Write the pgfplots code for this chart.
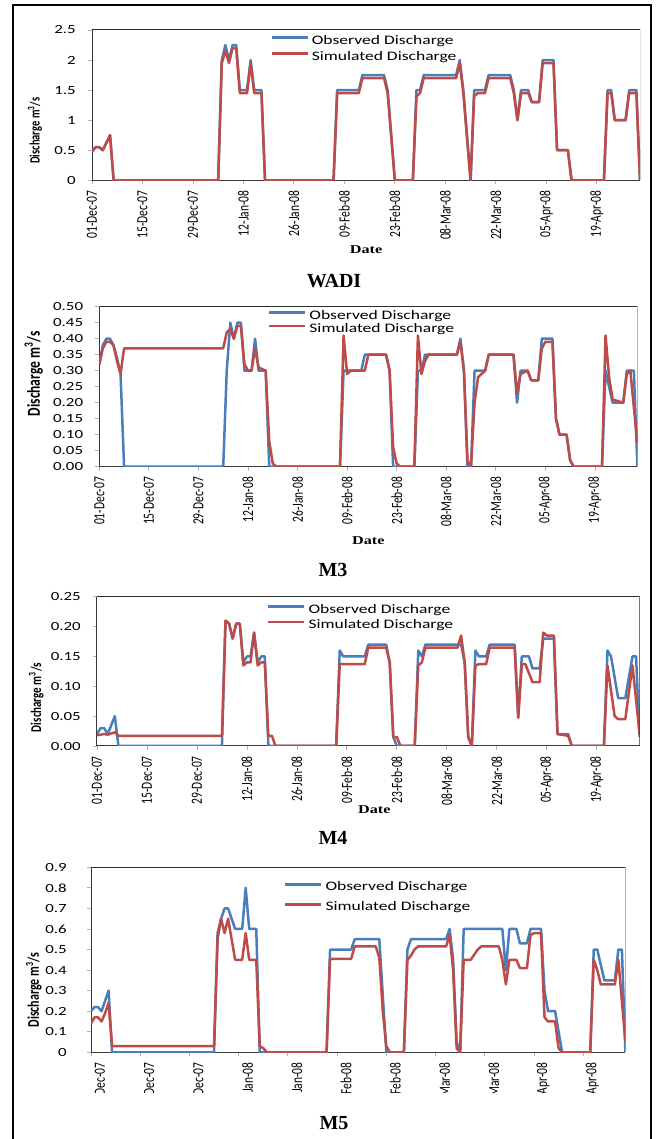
\documentclass[border=0pt]{standalone}
\usepackage{fontspec}
\setmainfont{Liberation Serif}
\newfontfamily\carlito{Carlito}
\usepackage{graphicx}
\usepackage{pgfplots}
\pgfplotsset{compat=1.18}
\definecolor{obsblue}{RGB}{74,126,187}
\definecolor{simred}{RGB}{190,75,72}
\newcommand\hs[1]{\scalebox{1.35}[1]{#1}}
\newcommand\vs[1]{\scalebox{1}[1.35]{#1}}
\tikzset{frameedge/.style={draw=gray!35!black, line width=1pt}}
\pgfplotsset{
  panel/.style={
    scale only axis,
    xmin=0, xmax=152, ymin=0,
    axis x line*=bottom, axis y line*=left,
    axis line style={draw=gray!45!black, line width=1pt},
    xtick={0,14,...,140},
    xticklabels={\vs{01-Dec-07},\vs{15-Dec-07},\vs{29-Dec-07},\vs{12-Jan-08},\vs{26-Jan-08},\vs{09-Feb-08},\vs{23-Feb-08},\vs{08-Mar-08},\vs{22-Mar-08},\vs{05-Apr-08},\vs{19-Apr-08}},
    xticklabel style={yshift=-4pt, rotate=90, anchor=east, inner sep=2pt, font=\carlito\fontsize{11.5}{11.5}\selectfont},
    yticklabel style={xshift=-10pt, font=\carlito\fontsize{12.5}{12.5}\selectfont, inner sep=2pt},
    /pgf/number format/assume math mode=true,
    tick align=outside, major tick length=4pt,
    tick style={draw=gray!60, line width=0.8pt},
    ylabel={\vs{Discharge m\textsuperscript{3}/s}},
    xlabel={\hs{Date}},
    xlabel style={anchor=center, font=\bfseries\fontsize{12}{12}\selectfont},
    legend cell align=left,
    legend image code/.code={\draw[#1] (0pt,3.6pt) -- (36pt,3.6pt);},
    legend style={draw=none, fill=none, inner sep=0pt, font=\carlito\fontsize{13}{13}\selectfont,
      nodes={inner sep=0pt, text height=9pt, text depth=3pt},
      /tikz/every odd column/.append style={column sep=3pt}},
    every axis plot/.append style={line width=2.5pt, line join=round},
  }
}
\begin{document}
\begin{tikzpicture}
\useasboundingbox (0pt,0pt) rectangle (659pt,1139pt);
% ---------------- WADI
\begin{axis}[panel, at={(92pt,958.7pt)}, anchor=south west, width=548pt, height=150.3pt,
  ymax=2.5, ytick={0,0.5,...,2.5},
  yticklabel={\hs{\pgfmathprintnumber{\tick}}},
  ylabel style={anchor=center, at={(axis description cs:-0.104,0.33)}, font=\carlito\bfseries\fontsize{10.5}{10.5}\selectfont},
  xlabel style={at={(axis description cs:0.5,-0.464)}},
  legend style={at={(axis description cs:0.325,0.967)}, anchor=north west, row sep=4pt}]
\addplot[obsblue] coordinates {(0,0.48)(1,0.55)(2,0.55)(3,0.5)(5,0.75)(6,0)(35,0)(36,2.0)(37,2.25)(38,2.0)(39,2.25)(40,2.25)(41,1.5)(43,1.5)(44,2.0)(45,1.5)(47,1.5)(48,0)(67,0)(68,1.5)(74,1.5)(75,1.75)(81,1.75)(82,1.5)(84,0)(89,0)(90,1.5)(91,1.5)(92,1.75)(101,1.75)(102,2.0)(103,1.5)(105,0)(106,1.5)(109,1.5)(110,1.75)(116,1.75)(117,1.5)(118,1.0)(119,1.5)(121,1.5)(122,1.3)(124,1.3)(125,2.0)(128,2.0)(129,0.5)(132,0.5)(133,0)(142,0)(143,1.5)(144,1.5)(145,1.0)(148,1.0)(149,1.5)(151,1.5)(152,0)};
\addlegendentry{\hs{Observed Discharge}}
\addplot[simred] coordinates {(0,0.48)(1,0.55)(2,0.55)(3,0.5)(5,0.75)(6,0)(35,0)(36,1.95)(37,2.15)(38,1.95)(39,2.2)(40,2.2)(41,1.45)(43,1.45)(44,1.95)(45,1.45)(47,1.45)(48,0)(67,0)(68,1.45)(74,1.45)(75,1.7)(81,1.7)(82,1.45)(84,0)(89,0)(90,1.4)(91,1.45)(92,1.7)(101,1.7)(102,1.95)(103,1.45)(105,0)(106,1.4)(107,1.45)(109,1.45)(110,1.7)(116,1.7)(117,1.45)(118,1.0)(119,1.45)(121,1.45)(122,1.3)(124,1.3)(125,1.95)(128,1.95)(129,0.5)(132,0.5)(133,0)(142,0)(143,1.45)(144,1.45)(145,1.0)(148,1.0)(149,1.45)(151,1.45)(152,0)};
\addlegendentry{\hs{Simulated Discharge}}
\draw[frameedge] (rel axis cs:0,1) -- (rel axis cs:1,1) -- (rel axis cs:1,0);
\end{axis}
% ---------------- M3
\begin{axis}[panel, at={(99.3pt,672.3pt)}, anchor=south west, width=538.1pt, height=160pt,
  ymax=0.5, ytick={0,0.05,...,0.51},
  yticklabel={\hs{\pgfmathprintnumber[fixed,fixed zerofill,precision=2]{\tick}}},
  ylabel style={anchor=center, at={(axis description cs:-0.122,0.58)}, font=\carlito\bfseries\fontsize{13.5}{13.5}\selectfont},
  xlabel style={at={(axis description cs:0.5,-0.464)}},
  legend style={at={(axis description cs:0.313,0.979)}, anchor=north west, row sep=1.3pt}]
\addplot[obsblue] coordinates {(0,0.32)(1,0.38)(2,0.40)(3,0.40)(4,0.38)(5,0.34)(6,0.29)(7,0)(35,0)(36,0.30)(37,0.45)(38,0.40)(39,0.45)(40,0.45)(41,0.30)(43,0.30)(44,0.40)(45,0.30)(47,0.30)(48,0)(68,0)(69,0.30)(74,0.30)(75,0.35)(81,0.35)(82,0.30)(83,0)(89,0)(90,0.30)(91,0.30)(92,0.35)(101,0.35)(102,0.40)(103,0.30)(104,0)(105,0)(106,0.30)(109,0.30)(110,0.35)(117,0.35)(118,0.20)(119,0.30)(121,0.30)(122,0.27)(124,0.27)(125,0.40)(128,0.40)(129,0.15)(130,0.10)(132,0.10)(133,0.02)(134,0)(142,0)(143,0.30)(144,0.25)(145,0.20)(148,0.20)(149,0.30)(151,0.30)(152,0)};
\addlegendentry{\hs{Observed Discharge}}
\addplot[simred] coordinates {(0,0.32)(1,0.37)(2,0.39)(3,0.39)(4,0.38)(5,0.33)(6,0.29)(7,0.37)(35,0.37)(36,0.42)(37,0.43)(38,0.40)(39,0.44)(40,0.44)(41,0.32)(42,0.30)(43,0.30)(44,0.37)(45,0.31)(47,0.30)(48,0.08)(49,0.01)(50,0)(68,0)(69,0.41)(70,0.29)(71,0.30)(75,0.30)(76,0.35)(81,0.35)(82,0.30)(83,0.06)(84,0.01)(85,0)(89,0)(90,0.41)(91,0.29)(92,0.33)(93,0.35)(101,0.35)(102,0.39)(103,0.30)(104,0.02)(105,0)(106,0.20)(107,0.28)(109,0.30)(110,0.35)(117,0.35)(118,0.23)(119,0.29)(121,0.30)(122,0.27)(124,0.27)(125,0.37)(126,0.39)(128,0.39)(129,0.15)(130,0.10)(132,0.10)(133,0.02)(134,0)(142,0)(143,0.41)(144,0.28)(145,0.21)(148,0.20)(149,0.29)(150,0.30)(152,0.07)};
\addlegendentry{\hs{Simulated Discharge}}
\draw[frameedge] (rel axis cs:0,1) -- (rel axis cs:1,1) -- (rel axis cs:1,0);
\end{axis}
% ---------------- M4
\begin{axis}[panel, at={(97pt,393pt)}, anchor=south west, width=542.6pt, height=149.2pt,
  ymax=0.25, ytick={0,0.05,...,0.26},
  yticklabel={\hs{\pgfmathprintnumber[fixed,fixed zerofill,precision=2]{\tick}}},
  ylabel style={anchor=center, at={(axis description cs:-0.112,0.325)}, font=\carlito\bfseries\fontsize{11}{11}\selectfont},
  xlabel style={at={(axis description cs:0.511,-0.429)}},
  legend style={at={(axis description cs:0.313,0.952)}, anchor=north west, row sep=3.3pt}]
\addplot[obsblue] coordinates {(0,0.02)(1,0.03)(2,0.03)(3,0.02)(4,0.035)(5,0.05)(6,0)(35,0)(36,0.21)(37,0.205)(38,0.18)(39,0.205)(40,0.205)(41,0.14)(42,0.15)(43,0.15)(44,0.19)(45,0.14)(46,0.15)(47,0.15)(48,0)(67,0)(68,0.16)(69,0.15)(75,0.15)(76,0.17)(81,0.17)(82,0.14)(83,0.015)(84,0)(89,0)(90,0.16)(91,0.15)(92,0.17)(101,0.17)(102,0.17)(103,0.14)(104,0.015)(105,0)(106,0.16)(107,0.15)(109,0.15)(110,0.17)(117,0.17)(118,0.05)(119,0.15)(121,0.15)(122,0.13)(124,0.13)(125,0.18)(128,0.18)(129,0.02)(132,0.02)(133,0)(142,0)(143,0.16)(144,0.15)(146,0.08)(148,0.08)(150,0.15)(151,0.15)(152,0.015)};
\addlegendentry{\hs{Observed Discharge}}
\addplot[simred] coordinates {(0,0.018)(2,0.02)(3,0.019)(5,0.023)(6,0.017)(35,0.017)(36,0.21)(37,0.205)(38,0.18)(39,0.205)(40,0.205)(41,0.135)(42,0.14)(43,0.14)(44,0.19)(45,0.135)(46,0.14)(47,0.14)(48,0.017)(49,0.017)(50,0)(67,0)(68,0.137)(75,0.137)(76,0.165)(81,0.165)(82,0.14)(83,0.015)(84,0.015)(85,0)(89,0)(90,0.135)(91,0.14)(92,0.165)(101,0.165)(102,0.185)(103,0.14)(104,0.015)(105,0)(106,0.135)(107,0.137)(109,0.137)(110,0.165)(117,0.165)(118,0.047)(119,0.137)(120,0.137)(122,0.107)(124,0.107)(125,0.19)(126,0.185)(128,0.185)(129,0.02)(132,0.017)(133,0)(142,0)(143,0.135)(145,0.05)(146,0.045)(148,0.045)(150,0.135)(152,0.02)};
\addlegendentry{\hs{Simulated Discharge}}
\draw[frameedge] (rel axis cs:0,1) -- (rel axis cs:1,1) -- (rel axis cs:1,0);
\end{axis}
% ---------------- M5
\begin{axis}[panel, at={(91pt,86.7pt)}, anchor=south west, width=534.4pt, height=185pt,
  ymax=0.9, ytick={0,0.1,...,0.91},
  yticklabel={\hs{\pgfmathprintnumber{\tick}}},
  yticklabel style={xshift=-8pt},
  xticklabel style={yshift=-9pt},
  xlabel={},
  ylabel style={anchor=center, at={(axis description cs:-0.107,0.337)}, font=\carlito\bfseries\fontsize{12}{12}\selectfont},
  legend style={at={(axis description cs:0.361,0.922)}, anchor=north west, row sep=8pt}]
\addplot[obsblue] coordinates {(0,0.20)(1,0.22)(2,0.22)(3,0.20)(4,0.25)(5,0.30)(6,0)(35,0)(36,0.58)(37,0.65)(38,0.70)(39,0.70)(40,0.65)(41,0.60)(43,0.60)(44,0.80)(45,0.60)(47,0.60)(48,0)(67,0)(68,0.50)(74,0.50)(75,0.55)(82,0.55)(84,0)(89,0)(90,0.50)(91,0.55)(101,0.55)(102,0.60)(103,0.45)(104,0.05)(105,0)(106,0.60)(117,0.60)(118,0.40)(119,0.60)(121,0.60)(122,0.53)(124,0.53)(125,0.60)(128,0.60)(129,0.30)(130,0.20)(132,0.20)(134,0)(142,0)(143,0.50)(144,0.50)(146,0.35)(149,0.35)(150,0.50)(151,0.50)(152,0)};
\addlegendentry{\hs{Observed Discharge}}
\addplot[simred] coordinates {(0,0.14)(1,0.17)(2,0.17)(3,0.15)(4,0.19)(5,0.24)(6,0.03)(35,0.03)(36,0.55)(37,0.65)(38,0.58)(39,0.65)(40,0.55)(41,0.45)(43,0.45)(44,0.58)(45,0.45)(47,0.45)(48,0.03)(49,0.02)(50,0)(67,0)(68,0.455)(74,0.455)(75,0.515)(81,0.515)(82,0.46)(83,0.2)(84,0.03)(85,0)(89,0)(90,0.45)(91,0.47)(92,0.50)(93,0.515)(101,0.515)(102,0.57)(103,0.40)(104,0.02)(105,0)(106,0.45)(108,0.45)(110,0.50)(111,0.515)(116,0.515)(117,0.45)(118,0.33)(119,0.45)(121,0.45)(122,0.41)(124,0.41)(125,0.57)(126,0.58)(128,0.58)(129,0.17)(130,0.15)(132,0.15)(133,0.02)(134,0)(142,0)(143,0.45)(144,0.40)(145,0.33)(149,0.33)(150,0.45)(152,0.05)};
\addlegendentry{\hs{Simulated Discharge}}
\draw[frameedge] (rel axis cs:0,1) -- (rel axis cs:1,1) -- (rel axis cs:1,0);
\end{axis}
% cut-off tick labels of the last panel
\fill[white] (14pt,0pt) rectangle (650pt,46pt);
% titles
\node[font=\bfseries\fontsize{20}{20}\selectfont] at (334pt,858pt) {WADI};
\node[font=\bfseries\fontsize{20}{20}\selectfont] at (333pt,569pt) {M3};
\node[font=\bfseries\fontsize{20}{20}\selectfont] at (333pt,301pt) {M4};
\node[font=\bfseries\fontsize{20}{20}\selectfont] at (334pt,16pt) {M5};
% outer frame
\draw[line width=2.5pt] (13pt,-5pt) -- (13pt,1134pt) -- (651pt,1134pt) -- (651pt,-5pt);
\end{tikzpicture}
\end{document}
